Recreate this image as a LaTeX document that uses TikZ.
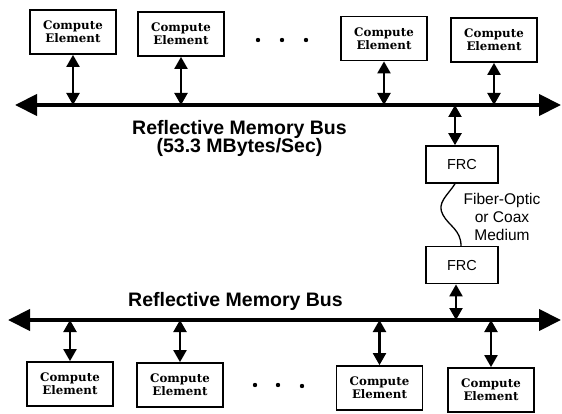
\documentclass[tikz,border=0pt]{standalone}
\usepackage{fontspec}
\setmainfont{Liberation Sans}
\newfontfamily\ceserif{DejaVu Serif}
\usetikzlibrary{arrows.meta,positioning}
\tikzset{
cebox/.style={rectangle,draw=black,line width=1.8pt,fill=white,inner sep=0pt,
  minimum width=86pt,minimum height=44pt,align=center,
  font=\ceserif\bfseries\fontsize{11.8}{13}\selectfont},
frcbox/.style={rectangle,draw=black,line width=1.6pt,fill=white,
  minimum width=72pt,minimum height=37pt,font=\fontsize{14.5}{16}\selectfont},
busline/.style={line width=4.2pt,{Triangle[length=22pt,width=21pt]}-{Triangle[length=22pt,width=21pt]}},
busarr/.style={line width=2.2pt,{Triangle[length=12pt,width=13pt]}-{Triangle[length=12pt,width=13pt]}},
buslabel/.style={inner sep=0pt,align=center,font=\bfseries\fontsize{19.5}{18.5}\selectfont},
medlabel/.style={inner sep=0pt,align=center,font=\fontsize{15.5}{18}\selectfont}
}
\begin{document}
\begin{tikzpicture}[x=1pt,y=-1pt]
\useasboundingbox (0,0) rectangle (562,414);
% upper ring
\node[cebox] (ceA) at (73,32) {Compute\\Element};
\node[cebox] (ceB) at (181,34) {Compute\\Element};
\node[cebox] (ceC) at (384,38.5) {Compute\\Element};
\node[cebox] (ceD) at (494,40) {Compute\\Element};
\coordinate (tbL) at (15,105);
\coordinate (tbR) at (561,105);
\draw[busline] (tbL) -- (tbR);
\foreach \n in {ceA,ceB,ceC,ceD}
  \draw[busarr] (\n.south) -- (\n.south |- tbL);
\foreach \x in {258,282,306}
  \fill (\x,40) circle (2.2pt);
\node[buslabel,anchor=north] (tblab) at (239.5,120) {Reflective Memory Bus\\(53.3 MBytes/Sec)};
% fiber link
\node[frcbox] (frcA) at (462,164.5) {FRC};
\node[frcbox,below=62pt of frcA] (frcB) {FRC};
\coordinate (frcAin) at ([xshift=-7pt]frcA.north);
\coordinate (frcAout) at ([xshift=-7pt]frcA.south);
\coordinate (frcBin) at ([xshift=-1pt]frcB.north);
\coordinate (frcBout) at ([xshift=-6pt]frcB.south);
\draw[busarr] (frcAin |- tbL) -- (frcAin);
\draw[line width=1.3pt] (frcAout) .. controls (448,195) and (436,203) .. (443,215)
  .. controls (449,226) and (461,230) .. (frcBin);
\node[medlabel] (med) at (502,217) {Fiber-Optic\\or Coax\\Medium};
% lower ring
\coordinate (bbL) at (8,320);
\coordinate (bbR) at (561,320);
\draw[busarr] (frcBout) -- (frcBout |- bbL);
\node[buslabel,anchor=base] (bblab) at (235.5,306.5) {Reflective Memory Bus};
\node[cebox] (ceE) at (70,384) {Compute\\Element};
\node[cebox] (ceF) at (180,385) {Compute\\Element};
\node[cebox] (ceG) at (379.5,388) {Compute\\Element};
\node[cebox] (ceH) at (491,390) {Compute\\Element};
\draw[busline] (bbL) -- (bbR);
\foreach \n in {ceE,ceF,ceG,ceH}
  \draw[busarr] (\n.north) -- (\n.north |- bbL);
\fill (255,385) circle (2.2pt);
\fill (278,385) circle (2.2pt);
\fill (302,386) circle (2.2pt);
\end{tikzpicture}
\end{document}
